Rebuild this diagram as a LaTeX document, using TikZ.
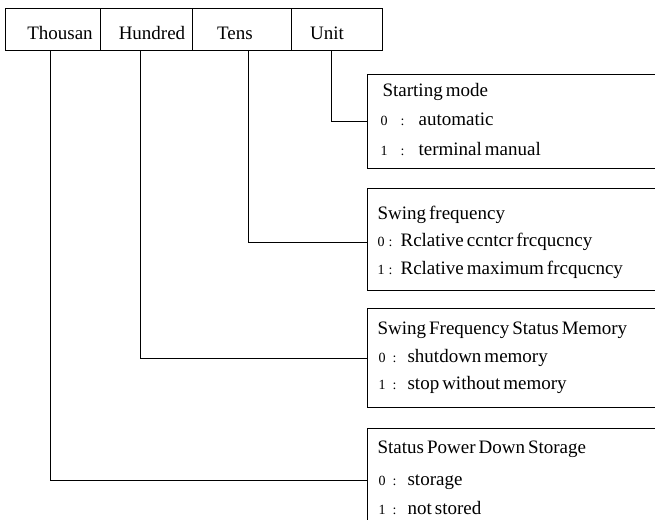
\documentclass[tikz,border=0pt]{standalone}
\usepackage{fontspec}
\setmainfont{Liberation Serif}
\newcommand{\boxfont}{\fontsize{19}{19}\selectfont\spaceskip=3pt\relax}
\newcommand{\optrow}[4]{\makebox[#1pt][l]{\fontsize{14}{14}\selectfont #3}\makebox[#2pt][l]{\fontsize{14}{14}\selectfont :}#4}
\begin{document}
\begin{tikzpicture}[x=1pt,y=-1pt,line width=1.2pt,
  cell/.style={draw, minimum height=42pt, inner sep=0pt, anchor=north west},
  box/.style={draw, minimum width=400pt, inner sep=0pt, anchor=north west},
  txt/.style={anchor=base west, inner sep=0pt, font=\boxfont},
  htxt/.style={anchor=base, inner sep=0pt, font=\fontsize{19}{19}\selectfont},
  conn/.style={line width=1.2pt}]
\useasboundingbox (0,0) rectangle (655,519);
\clip (0,0) rectangle (655,519);
% header
\node[cell, minimum width=95pt] (thou) at (5,8) {};
\node[cell, minimum width=92pt] (hund) at (100,8) {};
\node[cell, minimum width=99pt] (tens) at (192,8) {};
\node[cell, minimum width=91pt] (unit) at (291,8) {};
\node[htxt] at (60,40) {Thousan};
\node[htxt] at (152,40) {Hundred};
\node[htxt] at (235,40) {Tens};
\node[htxt] at (327,40) {Unit};
% boxes
\node[box, minimum height=94pt] (b1) at (367,74) {};
\node[box, minimum height=102pt] (b2) at (367,188) {};
\node[box, minimum height=99pt] (b3) at (367,308) {};
\node[box, minimum height=104pt] (b4) at (367,428) {};
% box texts
\node[txt] at (382,96) {Starting mode};
\node[txt] at (380,125) {\optrow{20}{18}{0}{automatic}};
\node[txt] at (380,155) {\optrow{20}{18}{1}{terminal manual}};
\node[txt] at (377,219) {Swing frequency};
\node[txt] at (377,246) {\optrow{11}{12}{0}{Rclative ccntcr frcqucncy}};
\node[txt] at (377,274) {\optrow{11}{12}{1}{Rclative maximum frcqucncy}};
\node[txt] at (377,334) {Swing Frequency Status Memory};
\node[txt] at (378,362) {\optrow{14}{15}{0}{shutdown memory}};
\node[txt] at (378,389) {\optrow{14}{15}{1}{stop without memory}};
\node[txt] at (377,453) {Status Power Down Storage};
\node[txt] at (378,485) {\optrow{14}{15}{0}{storage}};
\node[txt] at (378,514) {\optrow{14}{15}{1}{not stored}};
% connectors
\draw[conn] ([xshift=-5.5pt]unit.south) |- (b1.west);
\draw[conn] ([xshift=6.5pt]tens.south) |- ([yshift=-3pt]b2.west);
\draw[conn] ([xshift=-6pt]hund.south) |- (b3.west);
\draw[conn] ([xshift=-2.5pt]thou.south) |- (b4.west);
\end{tikzpicture}
\end{document}
